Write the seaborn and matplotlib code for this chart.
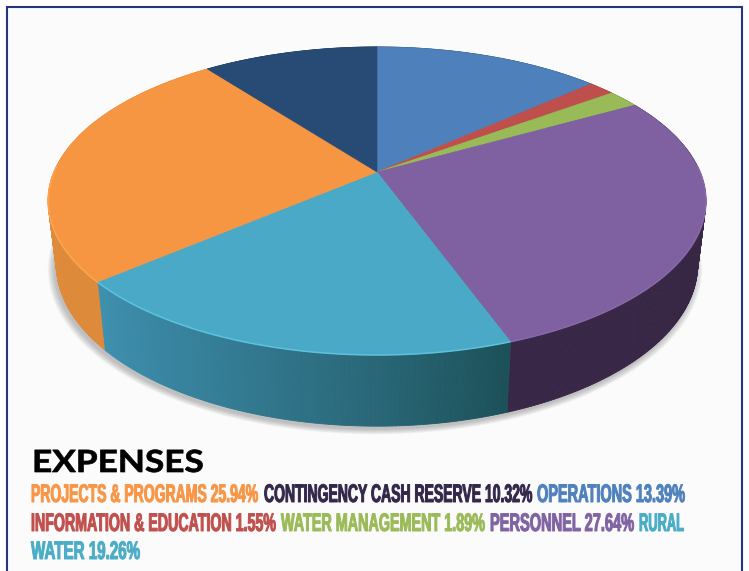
# Expenses pie, drawn with a perspective tilt and a side wall
import numpy as np
import matplotlib
matplotlib.use('Agg')
import matplotlib.pyplot as plt
import seaborn as sns
from matplotlib import font_manager
from matplotlib.collections import PolyCollection
from matplotlib.patches import Polygon
from matplotlib.patheffects import AbstractPathEffect
from matplotlib.transforms import Affine2D

# --- data, clockwise from twelve o'clock ---
categories = ['OPERATIONS', 'INFORMATION & EDUCATION', 'WATER MANAGEMENT', 'PERSONNEL',
              'RURAL WATER', 'PROJECTS & PROGRAMS', 'CONTINGENCY CASH RESERVE']
shares = [13.39, 1.55, 1.89, 27.64, 19.26, 25.94, 10.32]

top_colors = ['#4e80bb', '#bf4f4c', '#98bb57', '#7f60a0', '#49a9c6', '#f69642', '#284b75']
rim_colors = ['#4e80bb', '#bf4f4c', '#98bb57', '#8769a8', '#5fc1db', '#fba552', '#284b75']
wall_colors = [['#2c4a70', '#2c4a70'], ['#7a3230', '#7a3230'], ['#62783a', '#62783a'],
               ['#382746', '#372745', '#3a2a49'], ['#3e90af', '#357f99', '#2b6a7c', '#1c5159'],
               ['#de8a3a', '#e08d3d'], ['#1c3552', '#1c3552']]
text_colors = ['#4f81bd', '#c0504d', '#9bbb59', '#8064a2', '#4bacc6', '#f79646', '#33274a']

title = 'EXPENSES'

# legend runs: category index, text, left, right, baseline
label = [f'{c} {s:.2f}%' for c, s in zip(categories, shares)]
legend_runs = [
    (5, label[5], 31, 258, 502),
    (6, label[6], 264, 532, 502),
    (0, label[0], 537, 685, 502),
    (1, label[1], 31, 276, 531),
    (2, label[2], 281, 485, 531),
    (3, label[3], 490, 634, 531),
    (4, 'RURAL', 639, 684, 531),
    (4, 'WATER 19.26%', 31, 140, 559),
]

# perspective of the pie on the page
CX, CY = 377, 172
A, B, K = 323, 148.6, 0.188
DROP, SCALE_X, SCALE_Y = 62, 0.975, 1.05


def top_rim(theta):
    t = np.radians(theta)
    w = 1 + K * np.sin(t)
    return np.column_stack([CX + A * np.cos(t) / w, CY - B * np.sin(t) / w])


def bottom_rim(theta):
    t = np.radians(theta)
    w = 1 + K * np.sin(t)
    return np.column_stack([CX + SCALE_X * A * np.cos(t) / w,
                            CY + DROP - SCALE_Y * B * np.sin(t) / w])


class Heighten(AbstractPathEffect):
    """Stretches a text upward from its baseline and thickens it a little."""

    def __init__(self, sy, stroke=0.0):
        super().__init__()
        self.sy = sy
        self.stroke = stroke

    def draw_path(self, renderer, gc, tpath, affine, rgbFace=None):
        y0 = affine.get_matrix()[1, 2]
        tall = affine + Affine2D().translate(0, -y0).scale(1, self.sy).translate(0, y0)
        gc0 = renderer.new_gc()
        gc0.copy_properties(gc)
        gc0.set_foreground(rgbFace)
        gc0.set_linewidth(self.stroke)
        renderer.draw_path(gc0, tpath, tall, rgbFace)
        gc0.restore()


def fitted_text(ax, fig, x0, x1, y, s, size, stroke, **kw):
    # size is the height wanted; the real font size is what makes the width fit
    t = ax.text(x0, y, s, va='baseline', ha='left', fontsize=size, **kw)
    width = t.get_window_extent(fig.canvas.get_renderer()).width
    real = size * (x1 - x0) / width
    t.set_fontsize(real)
    t.set_path_effects([Heighten(size / real, stroke)])
    return t


sns.set_theme(style='white')
installed = {f.name for f in font_manager.fontManager.ttflist}
narrow = 'Liberation Sans Narrow' if 'Liberation Sans Narrow' in installed else 'Liberation Sans'

fig = plt.figure(figsize=(7.49, 5.71), dpi=100, facecolor='white')
ax = fig.add_axes([0, 0, 1, 1])

wedges, _ = ax.pie(shares, colors=sns.color_palette(top_colors), startangle=90, counterclock=False)
ax.set_aspect('auto')
ax.set_xlim(0, 749)
ax.set_ylim(571, 0)
ax.axis('off')

# page and frame
ax.add_patch(Polygon([(7, 7), (742, 7), (742, 575), (7, 575)], closed=True, facecolor='#fbfbfb',
                     edgecolor='#26357c', linewidth=1.5, zorder=0))

# soft shadow under the pie
ring = np.linspace(0, 360, 240)
for i in range(14):
    grow = 1 + 0.0016 * i
    pts = bottom_rim(ring)
    pts[:, 0] = CX - 2 + (pts[:, 0] - CX) * grow
    pts[:, 1] = CY + 3 + (pts[:, 1] - CY) * grow
    ax.add_patch(Polygon(pts, closed=True, facecolor='#707070', edgecolor='none', alpha=0.035, zorder=1))

# wall, then top face
for wedge, wall in zip(wedges, wall_colors):
    wedge.set_visible(False)
    n = max(int(wedge.theta2 - wedge.theta1) * 2, 4)
    theta = np.linspace(wedge.theta1, wedge.theta2, n + 1)
    upper, lower = top_rim(theta), bottom_rim(theta)
    shades = sns.blend_palette(wall, n_colors=n)
    # the palettes run left to right on the page, the angles run the other way for front slices
    if upper[0, 0] > upper[-1, 0]:
        shades = shades[::-1]
    quads = [[upper[i], upper[i + 1], lower[i + 1], lower[i]] for i in range(n)]
    ax.add_collection(PolyCollection(quads, facecolors=shades, edgecolors=shades, linewidths=0.6, zorder=2))

for wedge, top, rim in zip(wedges, top_colors, rim_colors):
    theta = np.linspace(wedge.theta1, wedge.theta2, 160)
    upper = top_rim(theta)
    face = np.vstack([[CX, CY], upper])
    ax.add_patch(Polygon(face, closed=True, facecolor=top, edgecolor=top, linewidth=0.4, zorder=3))
    # the light edge only shows on the near side
    near = np.sin(np.radians(theta)) < 0.05
    ax.plot(np.where(near, upper[:, 0], np.nan), upper[:, 1], color=rim, lw=1.1, zorder=4,
            solid_capstyle='butt')

# text
fig.canvas.draw()
fitted_text(ax, fig, 32, 204, 472, title, 22, 0.5, fontweight='bold', family=['Lato', 'DejaVu Sans'],
            color='black', zorder=5)
for idx, text, x0, x1, y in legend_runs:
    fitted_text(ax, fig, x0, x1, y, text, 18.3, 0.7, fontweight='bold', family=[narrow, 'DejaVu Sans'],
                color=text_colors[idx], zorder=5)

fig.savefig('out.png', dpi=100)
plt.close(fig)
